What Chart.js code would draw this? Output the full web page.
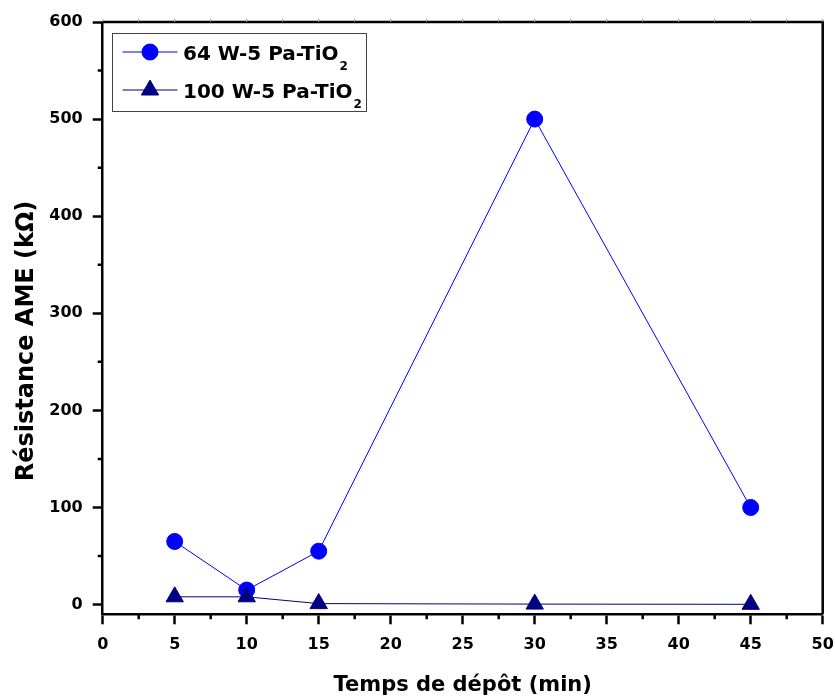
<!DOCTYPE html>
<html><head><meta charset="utf-8">
<script src="https://cdn.jsdelivr.net/npm/chart.js@4/dist/chart.umd.min.js"></script>
<style>html,body{margin:0;padding:0;background:#fff}#wrap{width:835px;height:700px}</style>
</head><body><div id="wrap"><canvas id="c" width="835" height="700"></canvas></div>
<script>
const X_VALUES = [5, 10, 15, 30, 45];
const SERIES_A = [65, 15, 55, 500, 100];
const SERIES_B = [8, 8, 1, 0.5, 0.3];
const SERIES_NAMES = ['64 W-5 Pa-TiO', '100 W-5 Pa-TiO'];
const NAME_SUB = '2';
const X_TICKS = [0, 5, 10, 15, 20, 25, 30, 35, 40, 45, 50];
const X_MINOR = [2.5, 7.5, 12.5, 17.5, 22.5, 27.5, 32.5, 37.5, 42.5, 47.5];
const Y_TICKS = [0, 100, 200, 300, 400, 500, 600];
const Y_MINOR = [50, 150, 250, 350, 450, 550];
const X_TITLE = 'Temps de dépôt (min)';
const Y_TITLE = 'Résistance AME (kΩ)';

const FONT = 'DejaVu Sans';
const toPts = (ys) => X_VALUES.map((x, i) => ({x: x, y: ys[i]}));

const framePlugin = {
  id: 'frame',
  afterDatasetsDraw(chart) {
    const ctx = chart.ctx, a = chart.chartArea;
    const xs = chart.scales.x, ys = chart.scales.y;
    ctx.save();
    ctx.strokeStyle = '#000';
    ctx.lineWidth = 2.5;
    ctx.beginPath();
    ctx.moveTo(a.left, a.top); ctx.lineTo(a.right, a.top); ctx.lineTo(a.right, a.bottom);
    ctx.stroke();
    ctx.beginPath();
    X_MINOR.forEach(v => { const p = xs.getPixelForValue(v); ctx.moveTo(p, a.bottom); ctx.lineTo(p, a.bottom + 5); });
    Y_MINOR.forEach(v => { const p = ys.getPixelForValue(v); ctx.moveTo(a.left, p); ctx.lineTo(a.left - 5, p); });
    ctx.stroke();
    ctx.strokeStyle = '#999';
    ctx.lineWidth = 1;
    ctx.beginPath();
    X_TICKS.concat(X_MINOR).forEach(v => { const p = xs.getPixelForValue(v); ctx.moveTo(p, a.top); ctx.lineTo(p, a.top - 3); });
    ctx.stroke();
    // y axis title
    ctx.fillStyle = '#000';
    ctx.font = 'bold 24px "' + FONT + '"';
    ctx.textAlign = 'center';
    ctx.textBaseline = 'alphabetic';
    ctx.translate(32.5, 341);
    ctx.rotate(-Math.PI / 2);
    ctx.fillText(Y_TITLE, 0, 0);
    ctx.restore();
  }
};

const legendPlugin = {
  id: 'customLegend',
  afterDraw(chart) {
    const ctx = chart.ctx;
    const box = {x: 112.5, y: 33.5, w: 254, h: 78};
    ctx.save();
    ctx.strokeStyle = '#444';
    ctx.lineWidth = 1;
    ctx.strokeRect(box.x, box.y, box.w, box.h);
    const rows = [52, 90];
    chart.data.datasets.forEach((ds) => {
      const idx = ds.legendIndex;
      const y = rows[idx];
      ctx.strokeStyle = ds.borderColor;
      ctx.lineWidth = 1;
      ctx.beginPath(); ctx.moveTo(122.5, y); ctx.lineTo(177.5, y); ctx.stroke();
      ctx.fillStyle = ds.backgroundColor;
      Chart.helpers.drawPoint(ctx, {pointStyle: ds.pointStyle, radius: ds.pointRadius, borderWidth: 1}, 150, y);
      ctx.fillStyle = '#000';
      ctx.textBaseline = 'alphabetic';
      ctx.textAlign = 'left';
      ctx.font = 'bold 20px "' + FONT + '"';
      const t = SERIES_NAMES[idx];
      ctx.fillText(t, 183, y + 8);
      const w = ctx.measureText(t).width;
      ctx.font = 'bold 12px "' + FONT + '"';
      ctx.fillText(NAME_SUB, 183 + w + 1, y + 18);
    });
    ctx.restore();
  }
};

const tickFont = {family: FONT, weight: 'bold', size: 16};

new Chart(document.getElementById('c'), {
  type: 'line',
  data: {
    datasets: [
      {label: SERIES_NAMES[0] + '₂', legendIndex: 0, order: 1, data: toPts(SERIES_A),
       borderColor: '#0000ff', backgroundColor: '#0000ff', borderWidth: 1,
       pointStyle: 'circle', pointRadius: 8, pointBorderWidth: 1, pointHoverRadius: 8},
      {label: SERIES_NAMES[1] + '₂', legendIndex: 1, order: 0, data: toPts(SERIES_B),
       borderColor: '#000080', backgroundColor: '#000080', borderWidth: 1,
       pointStyle: 'triangle', pointRadius: 10, pointBorderWidth: 1, pointHoverRadius: 10}
    ]
  },
  options: {
    responsive: false,
    animation: false,
    layout: {padding: {top: 22, right: 12.3, left: 0, bottom: 0}},
    plugins: {legend: {display: false}, tooltip: {enabled: false}},
    elements: {line: {tension: 0}},
    scales: {
      x: {
        type: 'linear', min: 0, max: 50,
        afterBuildTicks: s => { s.ticks = X_TICKS.map(v => ({value: v})); },
        afterFit: s => { s.height = 85.7; s.paddingLeft = 0; s.paddingRight = 0; },
        grid: {drawOnChartArea: false, drawTicks: true, tickLength: 10, tickWidth: 2.5, tickColor: '#000'},
        border: {display: true, color: '#000', width: 2.5},
        ticks: {font: tickFont, color: '#000', padding: 11, maxRotation: 0, autoSkip: false},
        title: {display: true, text: X_TITLE, color: '#000', font: {family: FONT, weight: 'bold', size: 21}, padding: {top: 0, bottom: 2}}
      },
      y: {
        type: 'linear', min: -10, max: 600,
        afterBuildTicks: s => { s.ticks = Y_TICKS.map(v => ({value: v})); },
        afterFit: s => { s.width = 102.7; s.paddingTop = 0; s.paddingBottom = 0; },
        grid: {drawOnChartArea: false, drawTicks: true, tickLength: 10, tickWidth: 2.5, tickColor: '#000'},
        border: {display: true, color: '#000', width: 2.5},
        ticks: {font: tickFont, color: '#000', padding: 10, autoSkip: false},
        title: {display: false}
      }
    }
  },
  plugins: [framePlugin, legendPlugin]
});
</script>
</body></html>
